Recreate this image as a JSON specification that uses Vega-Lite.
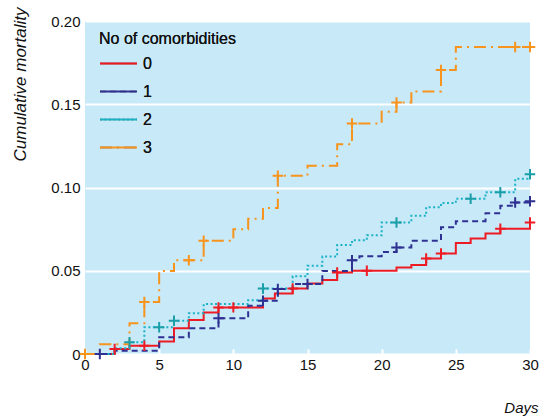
{
  "$schema": "https://vega.github.io/schema/vega-lite/v6.json",
  "width": 445,
  "height": 333,
  "autosize": {"type": "none"},
  "padding": {"left": 85, "top": 21, "right": 11, "bottom": 64},
  "background": "white",
  "config": {
    "view": {"fill": "#c8e9f8", "stroke": null},
    "font": "Liberation Sans",
    "axis": {"labelFont": "Liberation Sans", "titleFont": "Liberation Sans", "labelColor": "#111", "titleColor": "#111"}
  },
  "datasets": {
    "curves": [
      {"group": "0", "day": 0, "risk": 0}, {"group": "0", "day": 2, "risk": 0.003}, {"group": "0", "day": 3, "risk": 0.005},
      {"group": "0", "day": 5, "risk": 0.0075}, {"group": "0", "day": 6, "risk": 0.0154}, {"group": "0", "day": 7, "risk": 0.0204},
      {"group": "0", "day": 8, "risk": 0.025}, {"group": "0", "day": 9, "risk": 0.028}, {"group": "0", "day": 12, "risk": 0.0333},
      {"group": "0", "day": 12.8, "risk": 0.0363}, {"group": "0", "day": 14, "risk": 0.0393}, {"group": "0", "day": 15, "risk": 0.0423},
      {"group": "0", "day": 16, "risk": 0.0445}, {"group": "0", "day": 17, "risk": 0.049}, {"group": "0", "day": 18, "risk": 0.05},
      {"group": "0", "day": 21, "risk": 0.052}, {"group": "0", "day": 22, "risk": 0.0535}, {"group": "0", "day": 23, "risk": 0.0573},
      {"group": "0", "day": 24, "risk": 0.0603}, {"group": "0", "day": 25, "risk": 0.0667}, {"group": "0", "day": 26, "risk": 0.0693},
      {"group": "0", "day": 27, "risk": 0.0723}, {"group": "0", "day": 28, "risk": 0.0753}, {"group": "0", "day": 30, "risk": 0.079},

      {"group": "1", "day": 0, "risk": 0}, {"group": "1", "day": 2, "risk": 0.002}, {"group": "1", "day": 5, "risk": 0.01},
      {"group": "1", "day": 7, "risk": 0.0154}, {"group": "1", "day": 9, "risk": 0.0214}, {"group": "1", "day": 11, "risk": 0.029},
      {"group": "1", "day": 12, "risk": 0.032}, {"group": "1", "day": 13, "risk": 0.039}, {"group": "1", "day": 14, "risk": 0.042},
      {"group": "1", "day": 16, "risk": 0.0499}, {"group": "1", "day": 18, "risk": 0.0563}, {"group": "1", "day": 18.5, "risk": 0.0587},
      {"group": "1", "day": 20, "risk": 0.0613}, {"group": "1", "day": 21, "risk": 0.064}, {"group": "1", "day": 22, "risk": 0.068},
      {"group": "1", "day": 24, "risk": 0.0762}, {"group": "1", "day": 25, "risk": 0.0798}, {"group": "1", "day": 27, "risk": 0.0846},
      {"group": "1", "day": 28, "risk": 0.089}, {"group": "1", "day": 29, "risk": 0.091}, {"group": "1", "day": 30, "risk": 0.0918},

      {"group": "2", "day": 0, "risk": 0}, {"group": "2", "day": 2, "risk": 0.0035}, {"group": "2", "day": 3, "risk": 0.007},
      {"group": "2", "day": 4, "risk": 0.016}, {"group": "2", "day": 6, "risk": 0.02}, {"group": "2", "day": 7, "risk": 0.0244},
      {"group": "2", "day": 8, "risk": 0.03}, {"group": "2", "day": 11, "risk": 0.0323}, {"group": "2", "day": 12, "risk": 0.0393},
      {"group": "2", "day": 14, "risk": 0.0467}, {"group": "2", "day": 15, "risk": 0.053}, {"group": "2", "day": 16, "risk": 0.0585},
      {"group": "2", "day": 17, "risk": 0.0655}, {"group": "2", "day": 18, "risk": 0.0683}, {"group": "2", "day": 19, "risk": 0.0713},
      {"group": "2", "day": 20, "risk": 0.079}, {"group": "2", "day": 22, "risk": 0.083}, {"group": "2", "day": 23, "risk": 0.0882},
      {"group": "2", "day": 24, "risk": 0.0907}, {"group": "2", "day": 25, "risk": 0.0932}, {"group": "2", "day": 27, "risk": 0.0972},
      {"group": "2", "day": 29, "risk": 0.1052}, {"group": "2", "day": 30, "risk": 0.108},

      {"group": "3", "day": 0, "risk": 0}, {"group": "3", "day": 1, "risk": 0.0058}, {"group": "3", "day": 3, "risk": 0.0184},
      {"group": "3", "day": 4, "risk": 0.0313}, {"group": "3", "day": 5, "risk": 0.0499}, {"group": "3", "day": 6, "risk": 0.0563},
      {"group": "3", "day": 8, "risk": 0.068}, {"group": "3", "day": 10, "risk": 0.075}, {"group": "3", "day": 11, "risk": 0.0813},
      {"group": "3", "day": 12, "risk": 0.0877}, {"group": "3", "day": 13, "risk": 0.107}, {"group": "3", "day": 15, "risk": 0.113},
      {"group": "3", "day": 17, "risk": 0.126}, {"group": "3", "day": 18, "risk": 0.1385}, {"group": "3", "day": 20, "risk": 0.1455},
      {"group": "3", "day": 21, "risk": 0.151}, {"group": "3", "day": 22, "risk": 0.1577}, {"group": "3", "day": 24, "risk": 0.1705},
      {"group": "3", "day": 25, "risk": 0.1844}, {"group": "3", "day": 30, "risk": 0.1844}
    ],
    "censored": [
      {"group": "0", "day": 2, "risk": 0.003}, {"group": "0", "day": 4, "risk": 0.005}, {"group": "0", "day": 9, "risk": 0.028},
      {"group": "0", "day": 10, "risk": 0.028}, {"group": "0", "day": 14, "risk": 0.0393}, {"group": "0", "day": 17, "risk": 0.049},
      {"group": "0", "day": 19, "risk": 0.05}, {"group": "0", "day": 23, "risk": 0.0573}, {"group": "0", "day": 24, "risk": 0.0603},
      {"group": "0", "day": 28, "risk": 0.0753}, {"group": "0", "day": 30, "risk": 0.079},
      {"group": "1", "day": 1, "risk": 0}, {"group": "1", "day": 9, "risk": 0.0214}, {"group": "1", "day": 12, "risk": 0.032},
      {"group": "1", "day": 13, "risk": 0.039}, {"group": "1", "day": 15, "risk": 0.042}, {"group": "1", "day": 18, "risk": 0.0563},
      {"group": "1", "day": 21, "risk": 0.064}, {"group": "1", "day": 29, "risk": 0.091}, {"group": "1", "day": 30, "risk": 0.0918},
      {"group": "2", "day": 3, "risk": 0.007}, {"group": "2", "day": 5, "risk": 0.016}, {"group": "2", "day": 6, "risk": 0.02},
      {"group": "2", "day": 12, "risk": 0.0393}, {"group": "2", "day": 21, "risk": 0.079}, {"group": "2", "day": 26, "risk": 0.0932},
      {"group": "2", "day": 28, "risk": 0.0972}, {"group": "2", "day": 30, "risk": 0.108},
      {"group": "3", "day": 0, "risk": 0}, {"group": "3", "day": 4, "risk": 0.0313}, {"group": "3", "day": 7, "risk": 0.0563},
      {"group": "3", "day": 8, "risk": 0.068}, {"group": "3", "day": 13, "risk": 0.107}, {"group": "3", "day": 18, "risk": 0.1385},
      {"group": "3", "day": 21, "risk": 0.151}, {"group": "3", "day": 24, "risk": 0.1705}, {"group": "3", "day": 29, "risk": 0.1844},
      {"group": "3", "day": 30, "risk": 0.1844}
    ]
  },
  "layer": [
    {
      "data": {"name": "curves"},
      "mark": {"type": "line", "interpolate": "step-after", "strokeWidth": 2, "strokeCap": "butt", "clip": false},
      "encoding": {
        "x": {
          "field": "day", "type": "quantitative",
          "scale": {"domain": [0, 30], "nice": false, "zero": true},
          "axis": {
            "values": [0, 5, 10, 15, 20, 25, 30], "domain": false, "grid": false,
            "tickColor": "white", "tickSize": -5, "tickWidth": 2,
            "labelFontSize": 15, "labelPadding": 8, "labelFlush": false,
            "title": "Days", "titleFontStyle": "italic", "titleFontWeight": "normal", "titleFontSize": 15,
            "titleAlign": "right", "titleBaseline": "middle", "titleX": 453, "titleY": 53
          }
        },
        "y": {
          "field": "risk", "type": "quantitative",
          "scale": {"domain": [0, 0.2], "nice": false},
          "axis": {
            "values": [0, 0.05, 0.1, 0.15, 0.2], "domain": false, "ticks": false,
            "grid": true, "gridColor": "white", "gridWidth": 2, "gridOpacity": 1,
            "labelFontSize": 15, "labelPadding": 5, "labelFlush": false,
            "labelExpr": "datum.value == 0 ? '0' : format(datum.value, '.2f')",
            "title": "Cumulative mortality", "titleFontStyle": "italic", "titleFontWeight": "normal", "titleFontSize": 17,
            "titleAngle": 270, "titleAlign": "center", "titleBaseline": "middle", "titleX": -65, "titleY": 63
          }
        },
        "color": {
          "field": "group", "type": "nominal",
          "scale": {"domain": ["0", "1", "2", "3"], "range": ["#ed1c24", "#2e3192", "#1ab3c6", "#f7941d"]},
          "legend": {
            "title": "No of comorbidities", "orient": "none", "legendX": 14, "legendY": 10,
            "titleFontSize": 16, "titleFontWeight": "normal", "titleFont": "Liberation Sans", "titleColor": "#111", "titlePadding": -3,
            "labelFontSize": 16, "labelFont": "Liberation Sans", "labelColor": "#111", "labelOffset": 5,
            "symbolType": "stroke", "symbolSize": 1369, "symbolStrokeWidth": 2, "rowPadding": 0
          }
        },
        "strokeDash": {
          "field": "group", "type": "nominal",
          "scale": {"domain": ["0", "1", "2", "3"], "range": [[1, 0], [6, 4], [2, 2.5], [12, 5, 2, 5]]},
          "legend": {
            "title": "No of comorbidities", "orient": "none", "legendX": 14, "legendY": 10,
            "titleFontSize": 16, "titleFontWeight": "normal", "titleFont": "Liberation Sans", "titleColor": "#111", "titlePadding": -3,
            "labelFontSize": 16, "labelFont": "Liberation Sans", "labelColor": "#111", "labelOffset": 5,
            "symbolType": "stroke", "symbolSize": 1369, "symbolStrokeWidth": 2, "rowPadding": 0
          }
        }
      }
    },
    {
      "data": {"name": "censored"},
      "mark": {"type": "point", "shape": "M-1,0H1M0,-1V1", "size": 110, "strokeWidth": 2, "filled": false, "opacity": 1, "clip": false},
      "encoding": {
        "x": {"field": "day", "type": "quantitative"},
        "y": {"field": "risk", "type": "quantitative"},
        "color": {
          "field": "group", "type": "nominal",
          "scale": {"domain": ["0", "1", "2", "3"], "range": ["#ed1c24", "#2e3192", "#1a9ea8", "#f7941d"]},
          "legend": null
        }
      }
    }
  ],
  "resolve": {"scale": {"color": "independent"}}
}
